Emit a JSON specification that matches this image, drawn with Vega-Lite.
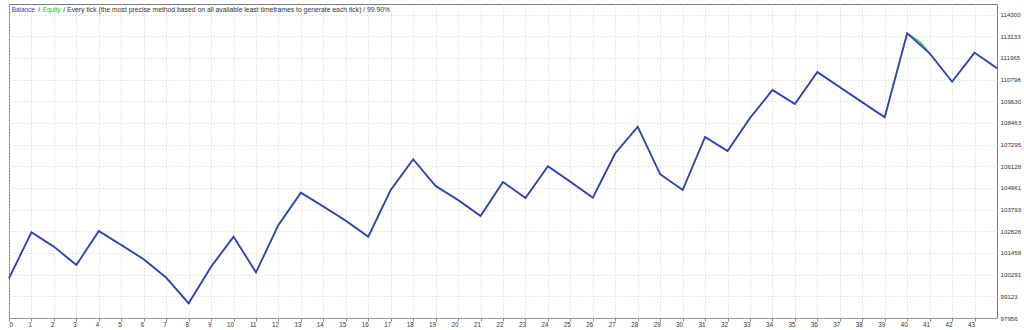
{
  "$schema": "https://vega.github.io/schema/vega-lite/v6.json",
  "width": 988,
  "height": 314,
  "autosize": {"type": "none"},
  "padding": {"left": 9, "top": 4, "right": 27, "bottom": 12},
  "background": "#ffffff",
  "config": {
    "view": {"stroke": "#7a7a7a", "strokeWidth": 1},
    "font": "Liberation Sans",
    "axis": {"labelOverlap": false, "labelFlush": false, "domain": false, "title": null,
             "grid": true, "gridColor": "#d0d0d0", "gridDash": [1, 2], "gridWidth": 1,
             "labelColor": "#333333"},
    "axisX": {"ticks": true, "tickSize": 3, "tickColor": "#8a8a8a", "labelFontSize": 6.3, "labelPadding": 0},
    "axisY": {"ticks": false, "labelPadding": 3, "labelFontSize": 6.2}
  },
  "datasets": {
    "balance": [
      {"i": 0, "v": 100095}, {"i": 1, "v": 102573}, {"i": 2, "v": 101797}, {"i": 3, "v": 100811},
      {"i": 4, "v": 102643}, {"i": 5, "v": 101889}, {"i": 6, "v": 101118}, {"i": 7, "v": 100127},
      {"i": 8, "v": 98748}, {"i": 9, "v": 100720}, {"i": 10, "v": 102336}, {"i": 11, "v": 100418},
      {"i": 12, "v": 102966}, {"i": 13, "v": 104706}, {"i": 14, "v": 103962}, {"i": 15, "v": 103198},
      {"i": 16, "v": 102336}, {"i": 17, "v": 104851}, {"i": 18, "v": 106505}, {"i": 19, "v": 105067},
      {"i": 20, "v": 104313}, {"i": 21, "v": 103451}, {"i": 22, "v": 105282}, {"i": 23, "v": 104420},
      {"i": 24, "v": 106128}, {"i": 25, "v": 105299}, {"i": 26, "v": 104437}, {"i": 27, "v": 106828},
      {"i": 28, "v": 108261}, {"i": 29, "v": 105697}, {"i": 30, "v": 104851}, {"i": 31, "v": 107706},
      {"i": 32, "v": 106952}, {"i": 33, "v": 108730}, {"i": 34, "v": 110238}, {"i": 35, "v": 109484},
      {"i": 36, "v": 111208}, {"i": 37, "v": 110389}, {"i": 38, "v": 109576}, {"i": 39, "v": 108768},
      {"i": 40, "v": 113293}, {"i": 41, "v": 112215}, {"i": 42, "v": 110686}, {"i": 43, "v": 112248},
      {"i": 44, "v": 111407}
    ],
    "equity": [
      {"i": 0, "v": 100095}, {"i": 1, "v": 102573}, {"i": 2, "v": 101797}, {"i": 3, "v": 100811},
      {"i": 4, "v": 102643}, {"i": 5, "v": 101889}, {"i": 6, "v": 101118}, {"i": 7, "v": 100127},
      {"i": 8, "v": 98748}, {"i": 9, "v": 100720}, {"i": 10, "v": 102336}, {"i": 11, "v": 100418},
      {"i": 12, "v": 102966}, {"i": 13, "v": 104706}, {"i": 14, "v": 103962}, {"i": 15, "v": 103198},
      {"i": 16, "v": 102336}, {"i": 17, "v": 104851}, {"i": 18, "v": 106505}, {"i": 19, "v": 105067},
      {"i": 20, "v": 104313}, {"i": 21, "v": 103451}, {"i": 22, "v": 105282}, {"i": 23, "v": 104420},
      {"i": 24, "v": 106128}, {"i": 25, "v": 105299}, {"i": 26, "v": 104437}, {"i": 27, "v": 106828},
      {"i": 28, "v": 108261}, {"i": 29, "v": 105697}, {"i": 30, "v": 104851}, {"i": 31, "v": 107706},
      {"i": 32, "v": 106952}, {"i": 33, "v": 108730}, {"i": 34, "v": 110238}, {"i": 35, "v": 109484},
      {"i": 36, "v": 111208}, {"i": 37, "v": 110389}, {"i": 38, "v": 109576}, {"i": 39, "v": 108768},
      {"i": 40, "v": 113293}, {"i": 40.6, "v": 112790}, {"i": 41, "v": 112215}, {"i": 42, "v": 110686},
      {"i": 43, "v": 112248}, {"i": 44, "v": 111407}
    ]
  },
  "layer": [
    {
      "data": {"name": "equity"},
      "mark": {"type": "line", "color": "#33cc33", "strokeWidth": 1.6},
      "encoding": {
        "x": {"field": "i", "type": "quantitative",
          "scale": {"domain": [0, 44], "nice": false, "zero": false},
          "axis": {"values": [0,1,2,3,4,5,6,7,8,9,10,11,12,13,14,15,16,17,18,19,20,21,22,23,24,25,26,27,28,29,30,31,32,33,34,35,36,37,38,39,40,41,42,43], "labelOverlap": false, "labelAlign": {"condition": {"test": "datum.value === 0", "value": "left"}, "value": "right"}}},
        "y": {"field": "v", "type": "quantitative",
          "scale": {"domain": [97956, 114870], "nice": false, "zero": false},
          "axis": {"orient": "right", "values": [97956, 99123, 100291, 101458, 102626, 103793, 104961, 106128, 107295, 108463, 109630, 110798, 111965, 113133, 114300], "format": "d", "labelOverlap": false}}
      }
    },
    {
      "data": {"name": "balance"},
      "mark": {"type": "line", "color": "#3a3ac8", "strokeWidth": 1.7},
      "encoding": {
        "x": {"field": "i", "type": "quantitative",
          "axis": {"values": [0,1,2,3,4,5,6,7,8,9,10,11,12,13,14,15,16,17,18,19,20,21,22,23,24,25,26,27,28,29,30,31,32,33,34,35,36,37,38,39,40,41,42,43], "labelOverlap": false, "labelAlign": {"condition": {"test": "datum.value === 0", "value": "left"}, "value": "right"}}},
        "y": {"field": "v", "type": "quantitative",
          "axis": {"orient": "right", "values": [97956, 99123, 100291, 101458, 102626, 103793, 104961, 106128, 107295, 108463, 109630, 110798, 111965, 113133, 114300], "format": "d", "labelOverlap": false}}
      }
    },
    {
      "data": {"values": [{"label": "Balance"}]},
      "mark": {"type": "text", "color": "#3a3ab0", "fontSize": 6.4, "align": "left", "baseline": "middle"},
      "encoding": {
        "x": {"datum": 0.12, "type": "quantitative",
          "axis": {"values": [0,1,2,3,4,5,6,7,8,9,10,11,12,13,14,15,16,17,18,19,20,21,22,23,24,25,26,27,28,29,30,31,32,33,34,35,36,37,38,39,40,41,42,43], "labelOverlap": false, "labelAlign": {"condition": {"test": "datum.value === 0", "value": "left"}, "value": "right"}}},
        "y": {"datum": 114547, "type": "quantitative",
          "axis": {"orient": "right", "values": [97956, 99123, 100291, 101458, 102626, 103793, 104961, 106128, 107295, 108463, 109630, 110798, 111965, 113133, 114300], "format": "d", "labelOverlap": false}},
        "text": {"field": "label"}
      }
    },
    {
      "data": {"values": [{"label": "/"}]},
      "mark": {"type": "text", "color": "#333333", "fontSize": 6.4, "align": "left", "baseline": "middle"},
      "encoding": {
        "x": {"datum": 1.3, "type": "quantitative",
          "axis": {"values": [0,1,2,3,4,5,6,7,8,9,10,11,12,13,14,15,16,17,18,19,20,21,22,23,24,25,26,27,28,29,30,31,32,33,34,35,36,37,38,39,40,41,42,43], "labelOverlap": false, "labelAlign": {"condition": {"test": "datum.value === 0", "value": "left"}, "value": "right"}}},
        "y": {"datum": 114547, "type": "quantitative",
          "axis": {"orient": "right", "values": [97956, 99123, 100291, 101458, 102626, 103793, 104961, 106128, 107295, 108463, 109630, 110798, 111965, 113133, 114300], "format": "d", "labelOverlap": false}},
        "text": {"field": "label"}
      }
    },
    {
      "data": {"values": [{"label": "Equity"}]},
      "mark": {"type": "text", "color": "#22bb22", "fontSize": 6.4, "align": "left", "baseline": "middle"},
      "encoding": {
        "x": {"datum": 1.5, "type": "quantitative",
          "axis": {"values": [0,1,2,3,4,5,6,7,8,9,10,11,12,13,14,15,16,17,18,19,20,21,22,23,24,25,26,27,28,29,30,31,32,33,34,35,36,37,38,39,40,41,42,43], "labelOverlap": false, "labelAlign": {"condition": {"test": "datum.value === 0", "value": "left"}, "value": "right"}}},
        "y": {"datum": 114547, "type": "quantitative",
          "axis": {"orient": "right", "values": [97956, 99123, 100291, 101458, 102626, 103793, 104961, 106128, 107295, 108463, 109630, 110798, 111965, 113133, 114300], "format": "d", "labelOverlap": false}},
        "text": {"field": "label"}
      }
    },
    {
      "data": {"values": [{"label": "/ Every tick (the most precise method based on all available least timeframes to generate each tick) / 99.90%"}]},
      "mark": {"type": "text", "color": "#333333", "fontSize": 6.8, "align": "left", "baseline": "middle"},
      "encoding": {
        "x": {"datum": 2.42, "type": "quantitative",
          "axis": {"values": [0,1,2,3,4,5,6,7,8,9,10,11,12,13,14,15,16,17,18,19,20,21,22,23,24,25,26,27,28,29,30,31,32,33,34,35,36,37,38,39,40,41,42,43], "labelOverlap": false, "labelAlign": {"condition": {"test": "datum.value === 0", "value": "left"}, "value": "right"}}},
        "y": {"datum": 114547, "type": "quantitative",
          "axis": {"orient": "right", "values": [97956, 99123, 100291, 101458, 102626, 103793, 104961, 106128, 107295, 108463, 109630, 110798, 111965, 113133, 114300], "format": "d", "labelOverlap": false}},
        "text": {"field": "label"}
      }
    }
  ]
}
